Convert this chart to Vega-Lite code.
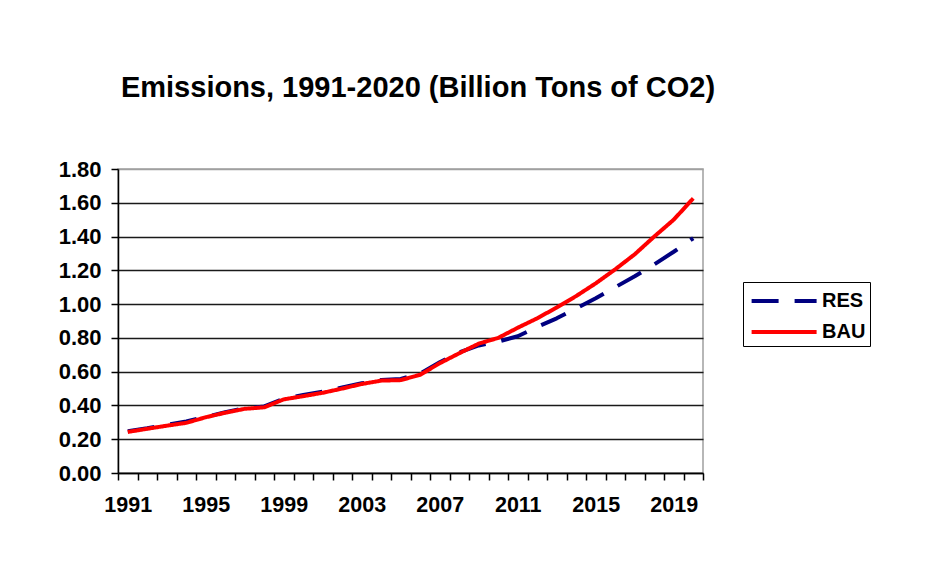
{
  "$schema": "https://vega.github.io/schema/vega-lite/v6.json",
  "autosize": "none",
  "width": 585,
  "height": 304,
  "padding": {"left": 118, "top": 169, "right": 239, "bottom": 91},
  "background": "white",
  "title": {
    "text": "Emissions, 1991-2020 (Billion Tons of CO2)",
    "font": "Liberation Sans",
    "fontSize": 29,
    "fontWeight": "bold",
    "color": "#000000",
    "anchor": "middle",
    "frame": "group",
    "baseline": "alphabetic",
    "dx": 7.5,
    "offset": 32
  },
  "config": {
    "view": {"stroke": "#a0a0a0", "strokeWidth": 1.5},
    "font": "Liberation Sans",
    "legend": {
      "strokeColor": "#000000",
      "fillColor": "#ffffff",
      "padding": 4,
      "rowPadding": 6,
      "symbolStrokeWidth": 4,
      "labelFont": "Liberation Sans",
      "labelFontSize": 20,
      "labelFontWeight": "bold",
      "labelColor": "#000000"
    }
  },
  "data": {
    "values": [
      {"year": 1991, "series": "RES", "value": 0.248},
      {"year": 1992, "series": "RES", "value": 0.265},
      {"year": 1993, "series": "RES", "value": 0.285},
      {"year": 1994, "series": "RES", "value": 0.305},
      {"year": 1995, "series": "RES", "value": 0.332},
      {"year": 1996, "series": "RES", "value": 0.36},
      {"year": 1997, "series": "RES", "value": 0.383},
      {"year": 1998, "series": "RES", "value": 0.394},
      {"year": 1999, "series": "RES", "value": 0.44},
      {"year": 2000, "series": "RES", "value": 0.462},
      {"year": 2001, "series": "RES", "value": 0.481},
      {"year": 2002, "series": "RES", "value": 0.506},
      {"year": 2003, "series": "RES", "value": 0.531},
      {"year": 2004, "series": "RES", "value": 0.551},
      {"year": 2005, "series": "RES", "value": 0.557},
      {"year": 2006, "series": "RES", "value": 0.589},
      {"year": 2007, "series": "RES", "value": 0.656},
      {"year": 2008, "series": "RES", "value": 0.714},
      {"year": 2009, "series": "RES", "value": 0.755},
      {"year": 2010, "series": "RES", "value": 0.778},
      {"year": 2011, "series": "RES", "value": 0.81},
      {"year": 2012, "series": "RES", "value": 0.865},
      {"year": 2013, "series": "RES", "value": 0.916},
      {"year": 2014, "series": "RES", "value": 0.975},
      {"year": 2015, "series": "RES", "value": 1.035},
      {"year": 2016, "series": "RES", "value": 1.1},
      {"year": 2017, "series": "RES", "value": 1.165},
      {"year": 2018, "series": "RES", "value": 1.235},
      {"year": 2019, "series": "RES", "value": 1.31},
      {"year": 2020, "series": "RES", "value": 1.39},
      {"year": 1991, "series": "BAU", "value": 0.243},
      {"year": 1992, "series": "BAU", "value": 0.262},
      {"year": 1993, "series": "BAU", "value": 0.28},
      {"year": 1994, "series": "BAU", "value": 0.297},
      {"year": 1995, "series": "BAU", "value": 0.33},
      {"year": 1996, "series": "BAU", "value": 0.357},
      {"year": 1997, "series": "BAU", "value": 0.38},
      {"year": 1998, "series": "BAU", "value": 0.389},
      {"year": 1999, "series": "BAU", "value": 0.436},
      {"year": 2000, "series": "BAU", "value": 0.455},
      {"year": 2001, "series": "BAU", "value": 0.475},
      {"year": 2002, "series": "BAU", "value": 0.5},
      {"year": 2003, "series": "BAU", "value": 0.527},
      {"year": 2004, "series": "BAU", "value": 0.547},
      {"year": 2005, "series": "BAU", "value": 0.55},
      {"year": 2006, "series": "BAU", "value": 0.582},
      {"year": 2007, "series": "BAU", "value": 0.65},
      {"year": 2008, "series": "BAU", "value": 0.709},
      {"year": 2009, "series": "BAU", "value": 0.766},
      {"year": 2010, "series": "BAU", "value": 0.8},
      {"year": 2011, "series": "BAU", "value": 0.86},
      {"year": 2012, "series": "BAU", "value": 0.916},
      {"year": 2013, "series": "BAU", "value": 0.98},
      {"year": 2014, "series": "BAU", "value": 1.048},
      {"year": 2015, "series": "BAU", "value": 1.123},
      {"year": 2016, "series": "BAU", "value": 1.206},
      {"year": 2017, "series": "BAU", "value": 1.295},
      {"year": 2018, "series": "BAU", "value": 1.4},
      {"year": 2019, "series": "BAU", "value": 1.5},
      {"year": 2020, "series": "BAU", "value": 1.626}
    ]
  },
  "mark": {"type": "line", "strokeWidth": 4, "strokeCap": "butt", "strokeJoin": "round"},
  "encoding": {
    "x": {
      "field": "year",
      "type": "ordinal",
      "scale": {"paddingInner": 0, "paddingOuter": 0},
      "axis": {
        "title": null,
        "tickBand": "extent",
        "labelExpr": "(datum.value - 1991) % 4 === 0 ? datum.label : ''",
        "labelAngle": 0,
        "labelOverlap": false,
        "labelFont": "Liberation Sans",
        "labelFontSize": 21.5,
        "labelFontWeight": "bold",
        "labelColor": "#000000",
        "labelPadding": 14,
        "tickSize": 7,
        "tickColor": "#000000",
        "tickWidth": 1.5,
        "domainColor": "#000000",
        "domainWidth": 1.5,
        "grid": false
      }
    },
    "y": {
      "field": "value",
      "type": "quantitative",
      "scale": {"domain": [0, 1.8], "nice": false, "zero": true},
      "axis": {
        "title": null,
        "values": [0, 0.2, 0.4, 0.6, 0.8, 1.0, 1.2, 1.4, 1.6, 1.8],
        "format": ".2f",
        "labelFont": "Liberation Sans",
        "labelFontSize": 22,
        "labelFontWeight": "bold",
        "labelColor": "#000000",
        "labelPadding": 10,
        "tickSize": 7,
        "tickColor": "#000000",
        "tickWidth": 1.5,
        "domainColor": "#000000",
        "domainWidth": 1.5,
        "grid": true,
        "gridColor": {"condition": {"test": "datum.value >= 1.79", "value": "#a0a0a0"}, "value": "#1a1a1a"},
        "gridWidth": 1.5
      }
    },
    "color": {
      "field": "series",
      "type": "nominal",
      "scale": {"domain": ["RES", "BAU"], "range": ["#000080", "#ff0000"]},
      "legend": {
        "title": null,
        "orient": "none",
        "legendX": 625,
        "legendY": 113,
        "symbolType": "M-0.8,0H4.2",
        "symbolSize": 676,
        "labelOffset": 45
      }
    },
    "strokeDash": {
      "field": "series",
      "type": "nominal",
      "scale": {"domain": ["RES", "BAU"], "range": [[27, 16], [1, 0]]},
      "legend": {
        "title": null,
        "orient": "none",
        "legendX": 625,
        "legendY": 113,
        "symbolType": "M-0.8,0H4.2",
        "symbolSize": 676,
        "labelOffset": 45
      }
    }
  }
}
